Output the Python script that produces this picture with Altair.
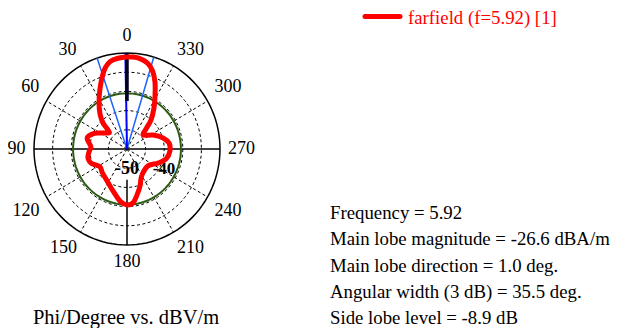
import altair as alt
import pandas as pd
import numpy as np

# ---------------- data ----------------
# farfield cut: phi (deg, counter-clockwise from top) and level (dB)
phi = [0, 5.8, 11.2, 15.3, 19.2, 24.5, 31.6, 38.5, 43.6, 45.9, 48, 60, 67.5, 75,
       81.3, 86.9, 94.3, 102.6, 110.7, 122.9, 131.7, 144.1, 154.6, 164.6, 173.3,
       180, 186.5, 192.7, 200, 206.6, 214.5, 232, 246.3, 256, 267.4, 277.9, 286.5,
       297.5, 310.3, 315.6, 319.5, 325.8, 331.8, 336.7, 341.2, 346, 351.6, 356, 360]
level = [-12.1, -12.5, -13.5, -16.0, -19.8, -25.1, -31.3, -36.7, -41.3, -45.8, -47.3,
         -43.3, -39.7, -37.8, -39.4, -40.6, -39.5, -38.5, -39.3, -42.8, -42.0, -40.7,
         -38.7, -35.7, -32.2, -30.9, -31.7, -35.5, -39.5, -43.1, -44.9, -45.7, -41.8,
         -38.4, -36.9, -37.2, -39.8, -44.2, -48.7, -45.4, -40.2, -34.2, -28.1, -22.0,
         -17.2, -14.0, -12.4, -12.0, -12.1]

R_MIN, R_MAX = -60, -10            # centre and outer ring of the radial scale
ring_levels = [-50, -40, -30, -20]  # dashed rings
green_level = -31.0                 # green reference circle
angle_ticks = list(range(0, 360, 30))
angle_labels = [str(a) for a in angle_ticks]
spoke_angles = [30, 60, 120, 150, 210, 240, 300, 330]
radial_labels = ["-50", "-40"]

main_dir = 1.0
beam_width = 35.5

legend_label = "farfield (f=5.92) [1]"
title_text = "Phi/Degree vs. dBV/m"
stats_lines = ["Frequency = 5.92",
               "Main lobe magnitude = -26.6 dBA/m",
               "Main lobe direction = 1.0 deg.",
               "Angular width (3 dB) = 35.5 deg.",
               "Side lobe level = -8.9 dB"]

FONT = "Liberation Serif"

# ---------------- helpers ----------------
X = alt.X("x:Q", scale=alt.Scale(domain=[-1, 1], range=[26, 212]), axis=None)
Y = alt.Y("y:Q", scale=alt.Scale(domain=[-1, 1], range=[237, 45]), axis=None)
span = R_MAX - R_MIN


def polar(chart, a="phi", lv="level", xo="x", yo="y"):
    return chart.transform_calculate(
        **{"rn_" + xo: f"(datum.{lv} - ({R_MIN})) / {span}"}
    ).transform_calculate(
        **{xo: f"-datum.rn_{xo} * sin(datum.{a} * PI / 180)",
           yo: f"datum.rn_{xo} * cos(datum.{a} * PI / 180)"}
    )


def rules(df, color, width, dash=None):
    kw = dict(color=color, strokeWidth=width)
    if dash:
        kw["strokeDash"] = dash
    c = alt.Chart(df).mark_rule(**kw)
    c = polar(c, "phi", "l0", "x", "y")
    c = polar(c, "phi", "l1", "x2", "y2")
    return c.encode(x=X, y=Y, x2="x2:Q", y2="y2:Q")


# rings
ang = np.arange(0, 361, 3)
ring_df = pd.DataFrame([(lv, a) for lv in ring_levels for a in ang], columns=["ring", "phi"])
ring_df["level"] = ring_df["ring"]
rings = polar(alt.Chart(ring_df).mark_line(color="black", strokeWidth=1, strokeDash=[3, 2.5])).encode(
    x=X, y=Y, detail="ring:N", order="phi:Q")

outer_df = pd.DataFrame({"phi": ang, "level": R_MAX})
outer = polar(alt.Chart(outer_df).mark_line(color="black", strokeWidth=1.5)).encode(
    x=X, y=Y, order="phi:Q")

green_df = pd.DataFrame({"phi": ang, "level": green_level})
green = polar(alt.Chart(green_df).mark_line(color="#2b5a12", strokeWidth=2)).encode(
    x=X, y=Y, order="phi:Q")

spokes = rules(pd.DataFrame({"phi": spoke_angles, "l0": R_MIN, "l1": R_MAX}),
               "black", 1, [3, 2.5])

axes_df = pd.DataFrame({"phi": [90, 270, 180, 0],
                        "l0": [R_MIN, R_MIN, R_MIN + 0.32 * span, R_MIN + 0.5 * span],
                        "l1": [R_MAX, R_MAX, R_MAX, R_MAX]})
axes = rules(axes_df.iloc[:3], "black", 1.5)

beam_df = pd.DataFrame({"phi": [main_dir + beam_width / 2, main_dir - beam_width / 2 + 360],
                        "l0": R_MIN, "l1": R_MAX})
beam = rules(beam_df, "#1e64ff", 1.5)
main_line = rules(pd.DataFrame({"phi": [main_dir], "l0": [R_MIN], "l1": [R_MAX]}), "#0000ff", 2)
top_axis = rules(axes_df.iloc[3:], "#000022", 3.5)

# farfield curve
curve_df = pd.DataFrame({"phi": phi, "level": level, "idx": range(len(phi))})
curve = polar(alt.Chart(curve_df).mark_line(color="#ff0000", strokeWidth=5,
                                             interpolate="catmull-rom",
                                             strokeJoin="round", strokeCap="round")).encode(
    x=X, y=Y, order="idx:Q")

# angle labels
lab_df = pd.DataFrame({"phi": angle_ticks, "label": angle_labels})
labels = alt.Chart(lab_df).mark_text(font=FONT, fontSize=18, align="center",
                                     baseline="middle").transform_calculate(
    s="sin(datum.phi * PI / 180)", c="cos(datum.phi * PI / 180)"
).transform_calculate(
    x="(-102 * datum.s + (datum.s > 0.01 ? -1 : (datum.s < -0.01 ? 1 : 0)) * 4.2 * length(datum.label)) / 93",
    y="(102 * datum.c + (datum.c > 0.01 ? 1 : (datum.c < -0.01 ? -1 : 0)) * 11) / 96"
).encode(x=X, y=Y, text="label:N")

rad_df = pd.DataFrame({"label": radial_labels})
rlab50 = alt.Chart(rad_df.iloc[:1]).mark_text(font=FONT, fontSize=18, fontWeight="bold",
                                              baseline="middle", align="center").encode(
    x=alt.value(119), y=alt.value(161), text="label:N")
rlab40 = alt.Chart(rad_df.iloc[1:]).mark_text(font=FONT, fontSize=17, fontWeight="bold",
                                              baseline="middle", align="center").encode(
    x=alt.value(156), y=alt.value(161), text="label:N")

# legend
leg_df = pd.DataFrame({"label": [legend_label]})
leg_line = alt.Chart(leg_df).mark_rule(color="#ff0000", strokeWidth=5, strokeCap="round").encode(
    x=alt.value(357), x2=alt.value(392), y=alt.value(8.5))
leg_text = alt.Chart(leg_df).mark_text(font=FONT, fontSize=18.8, color="#ff0000", align="left",
                                       baseline="alphabetic").encode(
    x=alt.value(400), y=alt.value(15.5), text="label:N")

# stats
stats_df = pd.DataFrame({"t": ["\n".join(stats_lines)]})
stats = alt.Chart(stats_df).mark_text(font=FONT, fontSize=18.8, align="left", baseline="alphabetic",
                                      lineBreak="\n", lineHeight=26.3, color="black").encode(
    x=alt.value(322), y=alt.value(211), text="t:N")

title_df = pd.DataFrame({"t": [title_text]})
title = alt.Chart(title_df).mark_text(font=FONT, fontSize=20.5, align="center",
                                      baseline="alphabetic", color="black").encode(
    x=alt.value(118), y=alt.value(315.5), text="t:N")

chart = alt.layer(
    rings, spokes, axes, outer, green, beam, main_line, top_axis, curve,
    labels, rlab50, rlab40, leg_line, leg_text, stats, title
).properties(width=603, height=320, padding=0, autosize="none"
).configure_view(strokeWidth=0)

chart.save("out.html", embed_options={"renderer": "svg", "actions": False})
